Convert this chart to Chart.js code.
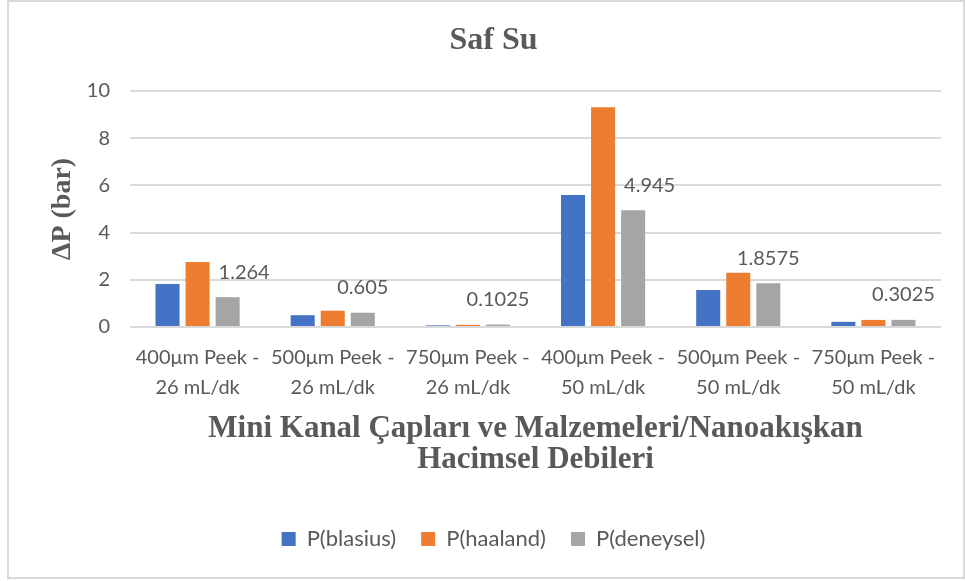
<!DOCTYPE html>
<html>
<head>
<meta charset="utf-8">
<script src="https://cdn.jsdelivr.net/npm/chart.js@4"></script>
<style>
    html, body { margin: 0; padding: 0; background: #ffffff; }
    #wrap { position: relative; width: 965px; height: 581px; }
    #frame { position: absolute; left: 7px; top: 0px; width: 954px; height: 575px; border: 2px solid #d9d9d9; pointer-events: none; }
    canvas { position: absolute; left: 0; top: 0; }
</style>
</head>
<body>
<div id="wrap">
    <canvas id="safsu-chart" width="965" height="581"></canvas>
    <div id="frame"></div>
</div>
<script>
    var kanallar = [
        ["400μm Peek -", "26 mL/dk"],
        ["500μm Peek -", "26 mL/dk"],
        ["750μm Peek -", "26 mL/dk"],
        ["400μm Peek -", "50 mL/dk"],
        ["500μm Peek -", "50 mL/dk"],
        ["750μm Peek -", "50 mL/dk"]
    ];

    var pBlasius  = [1.82, 0.50, 0.07, 5.59, 1.57, 0.22];
    var pHaaland  = [2.75, 0.69, 0.09, 9.31, 2.30, 0.30];
    var pDeneysel = [1.264, 0.605, 0.1025, 4.945, 1.8575, 0.3025];

    var yTicks = [0, 2, 4, 6, 8, 10];

    var griColor = "#595959";
    var sansFont = "Lato, 'Open Sans', sans-serif";
    var serifFont = "'Liberation Serif', 'DejaVu Serif', serif";

    // writes the measured value above each P(deneysel) bar,
    // nudged to the right when the orange bar next to it is in the way
    var deneyselEtiket = {
        id: "deneyselEtiket",
        afterDatasetsDraw: function(chart) {
            var ctx = chart.ctx;
            var meta = chart.getDatasetMeta(2);
            var turuncu = chart.getDatasetMeta(1);
            ctx.save();
            ctx.font = "20px " + sansFont;
            ctx.fillStyle = griColor;
            ctx.textAlign = "left";
            ctx.textBaseline = "middle";
            meta.data.forEach(function(bar, i) {
                var text = String(pDeneysel[i]);
                var w = ctx.measureText(text).width;
                var y = bar.y - 25;
                var left = bar.x - w / 2;
                var ob = turuncu.data[i];
                var obRight = ob.x + ob.width / 2;
                if (ob.y < y + 10 && obRight > left) {
                    left = obRight + 9;
                }
                ctx.fillText(text, left, y);
            });
            ctx.restore();
        }
    };

    var ctx = document.getElementById("safsu-chart").getContext("2d");
    var chart = new Chart(ctx, {
        type: "bar",
        data: {
            labels: kanallar,
            datasets: [
                {
                    label: "P(blasius)",
                    backgroundColor: "#4472C4",
                    data: pBlasius
                },
                {
                    label: "P(haaland)",
                    backgroundColor: "#ED7D31",
                    data: pHaaland
                },
                {
                    label: "P(deneysel)",
                    backgroundColor: "#A5A5A5",
                    data: pDeneysel
                }
            ]
        },
        plugins: [deneyselEtiket],
        options: {
            responsive: false,
            animation: false,
            categoryPercentage: 0.667,
            barPercentage: 0.8,
            layout: {
                padding: { left: 46, right: 24, top: 0, bottom: 21 }
            },
            plugins: {
                title: {
                    display: true,
                    text: "Saf Su",
                    color: griColor,
                    font: { family: serifFont, size: 32, weight: "bold", lineHeight: 1.2 },
                    padding: { top: 22, bottom: 30.6 }
                },
                legend: {
                    position: "bottom",
                    labels: {
                        color: griColor,
                        font: { family: sansFont, size: 22 },
                        boxWidth: 14,
                        boxHeight: 14,
                        padding: 25
                    }
                },
                tooltip: { enabled: false }
            },
            scales: {
                x: {
                    grid: { display: false },
                    border: { display: false },
                    afterFit: function(axis) {
                        axis.height = 176;
                    },
                    ticks: {
                        color: griColor,
                        font: { family: sansFont, size: 20, lineHeight: 1.5 },
                        padding: 8,
                        maxRotation: 0,
                        autoSkip: false
                    },
                    title: {
                        display: true,
                        text: ["Mini Kanal Çapları ve Malzemeleri/Nanoakışkan", "Hacimsel Debileri"],
                        color: griColor,
                        font: { family: serifFont, size: 31, weight: "bold", lineHeight: 1.0 },
                        padding: { top: 10, bottom: 28 }
                    }
                },
                y: {
                    min: yTicks[0],
                    max: yTicks[yTicks.length - 1],
                    grid: { color: "#d9d9d9", lineWidth: 2, drawTicks: false },
                    border: { display: false },
                    afterBuildTicks: function(axis) {
                        axis.ticks = yTicks.map(function(v) { return { value: v }; });
                    },
                    afterFit: function(axis) {
                        axis.width = 84;
                    },
                    ticks: {
                        color: griColor,
                        font: { family: sansFont, size: 20 },
                        padding: 20
                    },
                    title: {
                        display: true,
                        text: "ΔP (bar)",
                        color: griColor,
                        font: { family: serifFont, size: 28, weight: "bold", lineHeight: 1.2 },
                        padding: { top: 0, bottom: 0 }
                    }
                }
            }
        }
    });
</script>
</body>
</html>
